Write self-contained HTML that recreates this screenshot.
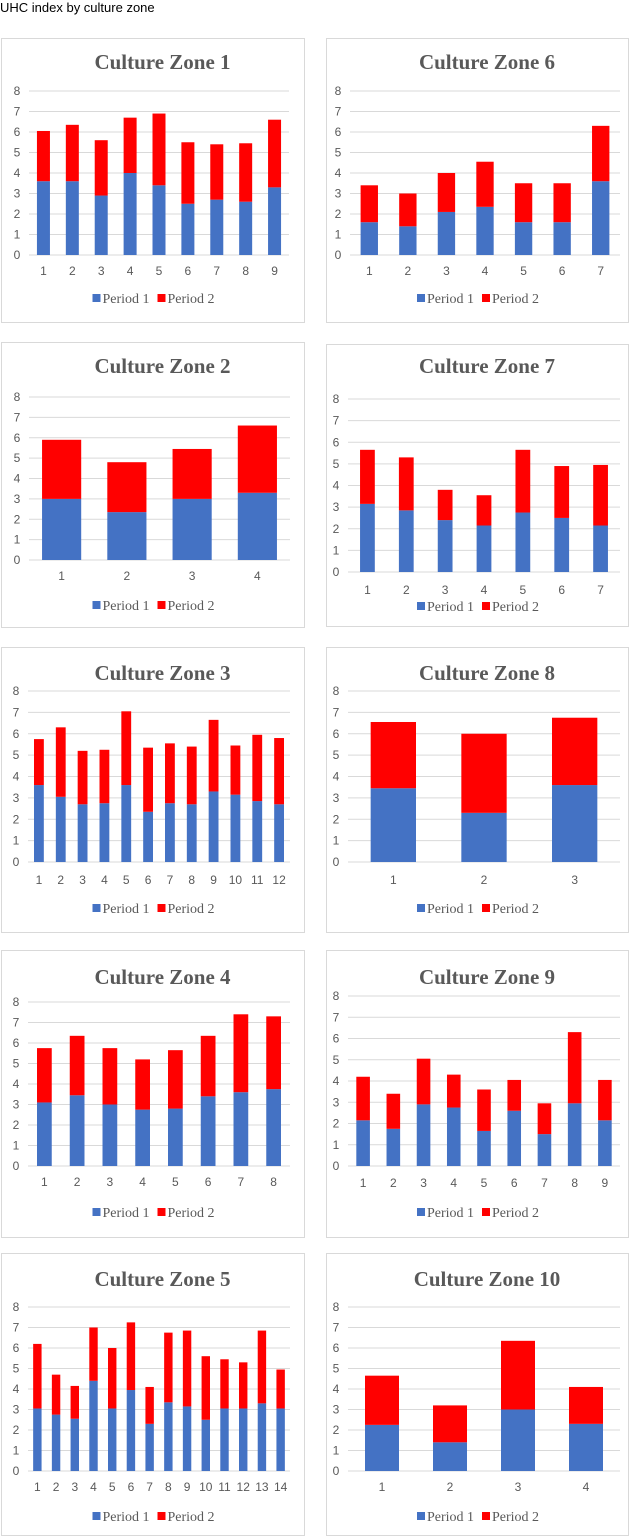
<!DOCTYPE html>
<html><head><meta charset="utf-8"><style>
body{margin:0;background:#fff;width:630px;height:1538px;overflow:hidden}
#page-title{position:absolute;left:0;top:0;font:13px "Liberation Sans",sans-serif;color:#000}
</style></head><body>
<div id="page-title">UHC index by culture zone</div>
<svg id="chart" width="630" height="1538" style="position:absolute;left:0;top:0"></svg>
<script>
const zoneNames=["Culture Zone 1","Culture Zone 6","Culture Zone 2","Culture Zone 7","Culture Zone 3","Culture Zone 8","Culture Zone 4","Culture Zone 9","Culture Zone 5","Culture Zone 10"];
const z1p1=[3.6,3.6,2.9,4.0,3.4,2.5,2.7,2.6,3.3];
const z1p2=[2.45,2.75,2.7,2.7,3.5,3.0,2.7,2.85,3.3];
const z6p1=[1.6,1.4,2.1,2.35,1.6,1.6,3.6];
const z6p2=[1.8,1.6,1.9,2.2,1.9,1.9,2.7];
const z2p1=[3.0,2.35,3.0,3.3];
const z2p2=[2.9,2.45,2.45,3.3];
const z7p1=[3.15,2.85,2.4,2.15,2.75,2.5,2.15];
const z7p2=[2.5,2.45,1.4,1.4,2.9,2.4,2.8];
const z3p1=[3.6,3.05,2.7,2.75,3.6,2.35,2.75,2.7,3.3,3.15,2.85,2.7];
const z3p2=[2.15,3.25,2.5,2.5,3.45,3.0,2.8,2.7,3.35,2.3,3.1,3.1];
const z8p1=[3.45,2.3,3.6];
const z8p2=[3.1,3.7,3.15];
const z4p1=[3.1,3.45,3.0,2.75,2.8,3.4,3.6,3.75];
const z4p2=[2.65,2.9,2.75,2.45,2.85,2.95,3.8,3.55];
const z9p1=[2.15,1.75,2.9,2.75,1.65,2.6,1.5,2.95,2.15];
const z9p2=[2.05,1.65,2.15,1.55,1.95,1.45,1.45,3.35,1.9];
const z5p1=[3.05,2.75,2.55,4.4,3.05,3.95,2.3,3.35,3.15,2.5,3.05,3.05,3.3,3.05];
const z5p2=[3.15,1.95,1.6,2.6,2.95,3.3,1.8,3.4,3.7,3.1,2.4,2.25,3.55,1.9];
const z10p1=[2.25,1.4,3.0,2.3];
const z10p2=[2.4,1.8,3.35,1.8];
const yTicks=[0,1,2,3,4,5,6,7,8];
const seriesP1=[z1p1,z6p1,z2p1,z7p1,z3p1,z8p1,z4p1,z9p1,z5p1,z10p1];
const seriesP2=[z1p2,z6p2,z2p2,z7p2,z3p2,z8p2,z4p2,z9p2,z5p2,z10p2];
// layout: [boxX, boxY, boxW, boxH, titleY, yTop, yBot, plotX0, plotX1, labelY, legendY, barFrac]
const layouts=[
[1,38,303,284,62,91,255,29,289,271,298,0.45],
[326,38,302,284,62,91,255,350,620,271,298,0.45],
[1,342,303,285,366,397,560,29,290,576,605,0.6],
[326,344,302,282,366,399,572,348,620,590,606,0.38],
[1,647,303,285,673,691,862,28,290,880,908,0.45],
[326,647,302,285,673,691,862,348,620,880,908,0.5],
[1,950,303,287,977,1002,1166,28,290,1182,1212,0.45],
[326,950,302,287,977,996,1166,348,620,1183,1212,0.45],
[1,1253,303,282,1279,1307,1471,28,290,1487,1516,0.45],
[326,1253,302,282,1279,1307,1471,348,620,1487,1516,0.5]];
const NS="http://www.w3.org/2000/svg";
const svg=document.getElementById('chart');
function mk(tag,attrs,parent){const e=document.createElementNS(NS,tag);for(const k in attrs)e.setAttribute(k,attrs[k]);parent.appendChild(e);return e;}
layouts.forEach((L,i)=>{
  const [bx,by,bw,bh,ty,yTop,yBot,x0,x1,ly,lgy,frac]=L;
  const g=mk('g',{},svg);
  
  
  const box=mk('rect',{x:bx+0.5,y:by+0.5,width:bw,height:bh,fill:'#fff',stroke:'#d9d9d9','stroke-width':1},g);
  
  
  const t=mk('text',{x:bx+bw/2+10,y:ty+7,'text-anchor':'middle','font-family':'Liberation Serif,serif','font-weight':'bold','font-size':21,fill:'#595959'},g);
  t.textContent=zoneNames[i];
  
  
  const yS=v=>yBot-(v/8)*(yBot-yTop);
  yTicks.forEach(v=>{
    const gl=mk('line',{x1:x0,x2:x1,y1:yS(v),y2:yS(v),stroke:'#d9d9d9','stroke-width':1},g);
    
    
    const tl=mk('text',{x:x0-12,y:yS(v)+4,'text-anchor':'middle','font-family':'Liberation Sans,sans-serif','font-size':12,fill:'#595959'},g);
    tl.textContent=v;
    
    
  });
  const p1=seriesP1[i],p2=seriesP2[i],n=p1.length,cw=(x1-x0)/n,bwid=cw*frac;
  p1.forEach((v,j)=>{
    const cx=x0+cw*(j+0.5);
    const r1=mk('rect',{x:cx-bwid/2,y:yS(v),width:bwid,height:yBot-yS(v),fill:'#4472c4'},g);
    
    
    const top=v+p2[j];
    const r2=mk('rect',{x:cx-bwid/2,y:yS(top),width:bwid,height:yS(v)-yS(top),fill:'#ff0000'},g);
    
    
    const xl=mk('text',{x:cx,y:ly+4,'text-anchor':'middle','font-family':'Liberation Sans,sans-serif','font-size':12,fill:'#595959'},g);
    xl.textContent=j+1;
    
    
  });
  const lx=bx+bw/2-60;
  const s1=mk('rect',{x:lx,y:lgy-4,width:8,height:8,fill:'#4472c4'},g);
  
  
  const t1=mk('text',{x:lx+10,y:lgy+5,'font-family':'Liberation Serif,serif','font-size':14,fill:'#595959'},g);
  t1.textContent='Period 1';
  
  
  const s2=mk('rect',{x:lx+65,y:lgy-4,width:8,height:8,fill:'#ff0000'},g);
  
  
  const t2=mk('text',{x:lx+75,y:lgy+5,'font-family':'Liberation Serif,serif','font-size':14,fill:'#595959'},g);
  t2.textContent='Period 2';
  
  
});
</script>
</body></html>
